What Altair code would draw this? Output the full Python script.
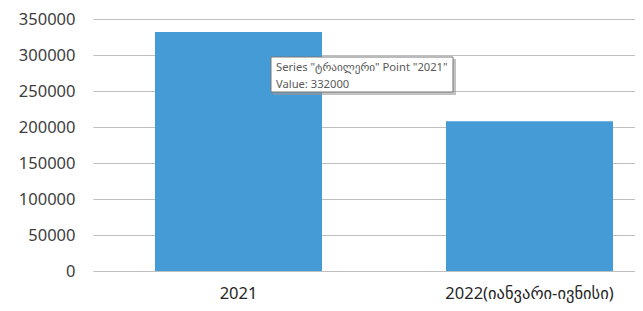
import altair as alt
import pandas as pd

categories = ["2021", "2022(იანვარი-ივნისი)"]
values = [332000, 208000]
series_name = "ტრაილერი"
y_ticks = [0, 50000, 100000, 150000, 200000, 250000, 300000, 350000]

df = pd.DataFrame({"period": categories, "value": values})

FONT = "Noto Sans, DejaVu Sans, sans-serif"
W, H = 542, 252

bars = alt.Chart(df).mark_bar(color="#459BD6").encode(
    x=alt.X(
        "period:N",
        sort=categories,
        scale=alt.Scale(range=[0, 582], paddingInner=0.426, paddingOuter=0.213),
        axis=alt.Axis(
            title=None, labelAngle=0, domain=False, ticks=False,
            labelFont=FONT, labelFontSize=16.5, labelColor="#262626",
            labelPadding=14, grid=False,
        ),
    ),
    y=alt.Y(
        "value:Q",
        scale=alt.Scale(domain=[0, 350000], nice=False),
        axis=alt.Axis(
            title=None, values=y_ticks, format="d", domain=False, ticks=False,
            labelFont=FONT, labelFontSize=16.5, labelColor="#404040",
            labelPadding=18, gridColor="#BFBFBF", gridWidth=1,
        ),
    ),
)

tip_df = pd.DataFrame({
    "line1": [f'Series "{series_name}" Point "{categories[0]}"'],
    "line2": [f"Value: {values[0]}"],
})

shadow = alt.Chart(tip_df).mark_rect(color="#9a9a9a", opacity=0.6).encode(
    x=alt.value(180), x2=alt.value(363), y=alt.value(40), y2=alt.value(76)
)
box = alt.Chart(tip_df).mark_rect(fill="white", stroke="#767676", strokeWidth=1).encode(
    x=alt.value(178), x2=alt.value(360), y=alt.value(38), y2=alt.value(73)
)
t1 = alt.Chart(tip_df).mark_text(
    align="left", baseline="alphabetic", font=FONT, fontSize=11.2, color="#595959"
).encode(x=alt.value(183), y=alt.value(52), text="line1:N")
t2 = alt.Chart(tip_df).mark_text(
    align="left", baseline="alphabetic", font=FONT, fontSize=11.2, color="#595959"
).encode(x=alt.value(183), y=alt.value(69), text="line2:N")

chart = alt.layer(bars, shadow, box, t1, t2).properties(
    width=W, height=H,
    autosize=alt.AutoSizeParams(type="none"),
    padding={"left": 85, "top": 11, "right": 0, "bottom": 32},
).configure(background="white").configure_view(stroke=None)

chart.save("out.html", embed_options={"renderer": "svg", "actions": False})
